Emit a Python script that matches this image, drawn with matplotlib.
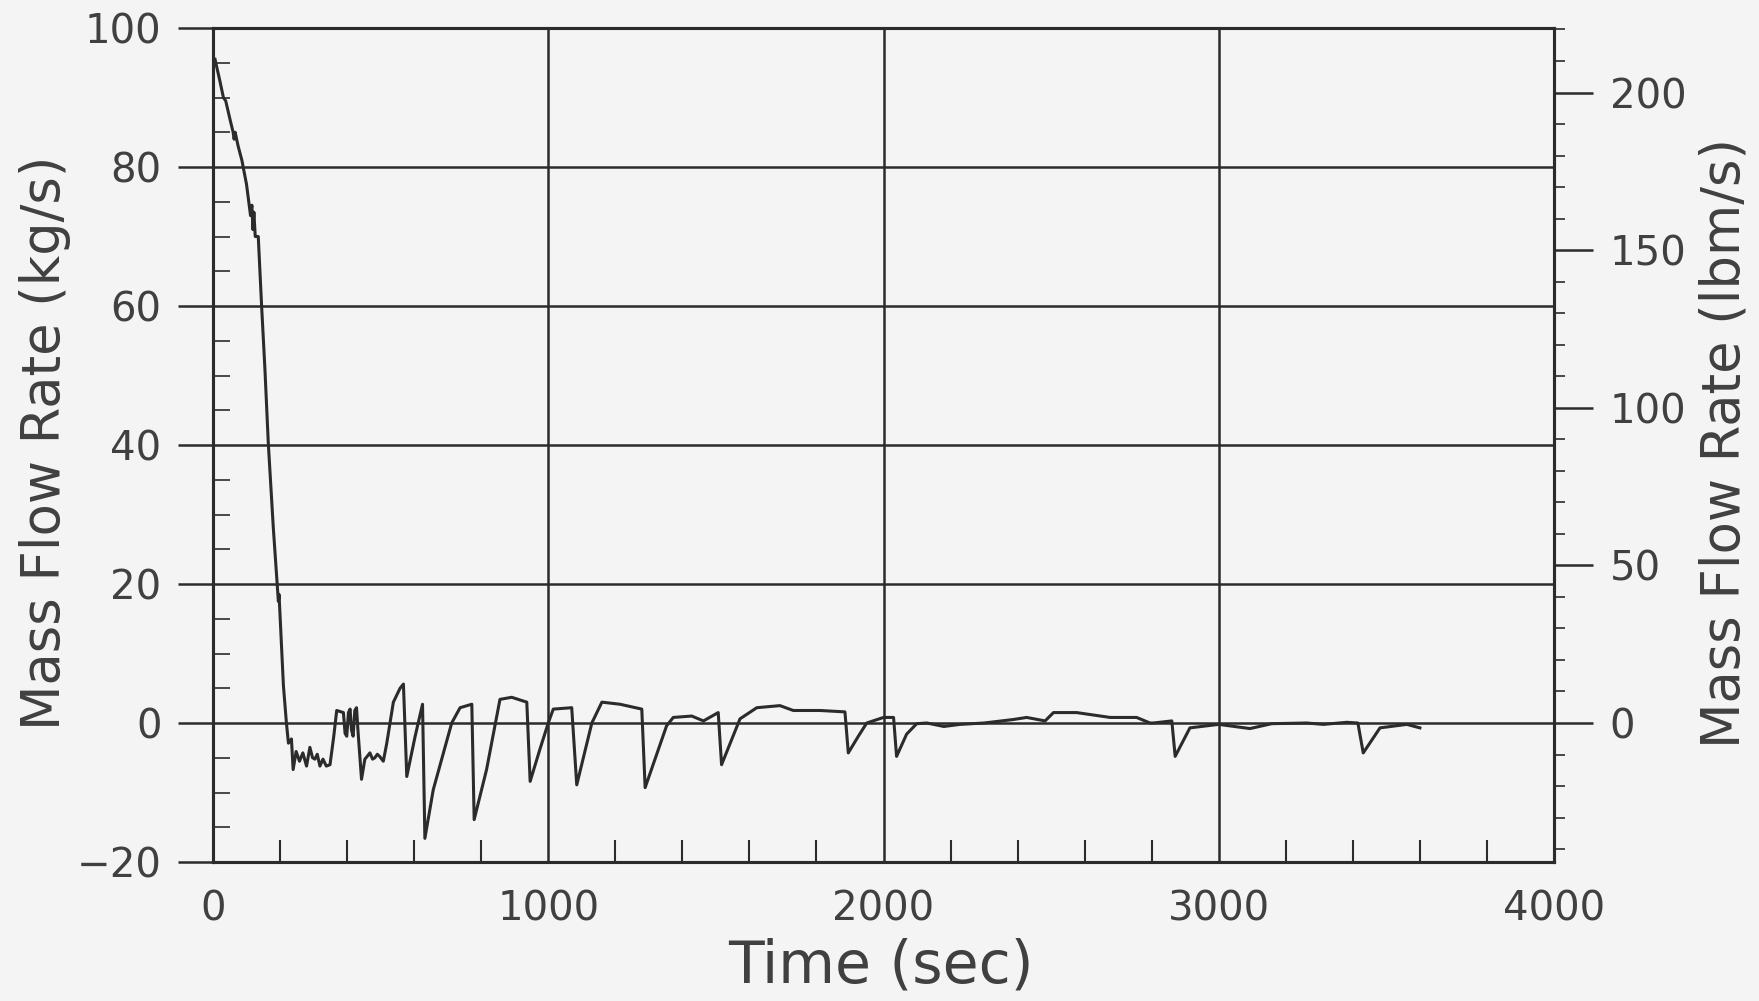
import matplotlib
matplotlib.use("Agg")
import matplotlib.pyplot as plt
from matplotlib.ticker import MultipleLocator, FixedLocator

# ---- data ----
time_s = [6, 20, 31, 38, 50, 60, 63, 66, 75, 86, 100, 112, 116, 119, 122, 126, 135,
          145, 155, 165, 180, 192, 195, 197, 210, 219, 225, 234, 239, 248, 258, 268,
          279, 289, 297, 304, 311, 319, 328, 338, 349, 360, 369, 389, 394, 399, 404,
          409, 413, 418, 423, 428, 433, 443, 453, 460, 468, 476, 483, 490, 497, 508,
          518, 538, 558, 568, 578, 603, 625, 632, 657, 712, 737, 772, 779, 816, 856,
          891, 936, 946, 975, 1000, 1015, 1070, 1085, 1130, 1160, 1214, 1279, 1289,
          1353, 1373, 1428, 1463, 1507, 1517, 1572, 1622, 1691, 1731, 1811, 1885,
          1895, 1925, 1950, 2000, 2030, 2039, 2069, 2099, 2129, 2180, 2228, 2300,
          2387, 2427, 2482, 2507, 2576, 2676, 2755, 2795, 2805, 2860, 2870, 2914,
          3000, 3093, 3158, 3262, 3312, 3382, 3415, 3431, 3481, 3561, 3600]
flow_kg = [95.5, 92.5, 90.0, 89.5, 87.0, 85.0, 84.0, 85.0, 83.0, 81.0, 77.5, 73.0,
           74.5, 71.0, 73.5, 70.0, 70.0, 60.0, 50.8, 40.2, 28.0, 19.5, 17.5, 18.5,
           5.4, 0.0, -2.9, -2.3, -6.7, -4.1, -5.5, -4.3, -6.2, -3.5, -5.0, -5.2,
           -4.5, -6.2, -5.2, -6.2, -6.0, -2.0, 1.8, 1.5, -1.5, -1.9, 1.5, 2.0, -1.0,
           -1.9, 1.8, 2.2, -1.5, -8.1, -5.2, -4.8, -4.3, -5.2, -5.0, -4.5, -4.8,
           -5.5, -3.0, 3.0, 5.0, 5.6, -7.7, -1.9, 2.7, -16.6, -9.6, 0.0, 2.2, 2.7,
           -13.9, -6.7, 3.4, 3.7, 3.0, -8.4, -3.8, 0.0, 2.0, 2.2, -8.9, 0.0, 3.0,
           2.7, 2.0, -9.3, -0.4, 0.8, 1.0, 0.3, 1.5, -6.0, 0.6, 2.2, 2.5, 1.8, 1.8,
           1.6, -4.3, -1.9, 0.0, 0.8, 0.8, -4.8, -1.6, -0.1, 0.0, -0.5, -0.2, 0.0,
           0.5, 0.8, 0.3, 1.5, 1.5, 0.8, 0.8, 0.0, 0.0, 0.3, -4.8, -0.7, -0.2, -0.8,
           -0.1, 0.0, -0.2, 0.1, 0.0, -4.3, -0.7, -0.2, -0.7]

x_ticks = [0, 1000, 2000, 3000, 4000]
y_ticks = [-20, 0, 20, 40, 60, 80, 100]
y2_ticks = [0, 50, 100, 150, 200]
KG_TO_LBM = 2.20462

ink = "#2b2b2b"
txt = "#404040"
bg = "#f4f4f4"

plt.rcParams['font.family'] = ['DejaVu Sans']

fig = plt.figure(figsize=(17.59, 10.01), dpi=100, facecolor=bg)
ax = fig.add_axes([213/1759, 1-862/1001, 1341/1759, 834/1001], facecolor=bg)

ax.plot(time_s, flow_kg, color=ink, lw=2.2, zorder=3)

ax.set_xlim(0, 4000)
ax.set_ylim(-20, 100)
ax.set_xticks(x_ticks)
ax.set_yticks(y_ticks)
ax.grid(True, which='major', color=ink, lw=1.8)
ax.set_axisbelow(True)

ax.xaxis.set_minor_locator(MultipleLocator(200))
ax.yaxis.set_minor_locator(MultipleLocator(5))
ax.tick_params(axis='x', which='major', direction='in', length=0, pad=20,
               labelsize=29, labelcolor=txt, top=False)
ax.tick_params(axis='x', which='minor', direction='in', length=16, width=1.5,
               color=ink, top=False)
ax.tick_params(axis='y', which='major', direction='out', length=25, width=1.8,
               color=ink, pad=12, labelsize=29, labelcolor=txt)
ax.tick_params(axis='y', which='minor', direction='in', length=12, width=1.2,
               color=ink)
for s in ax.spines.values():
    s.set_color(ink)
    s.set_linewidth(2.2)

ax2 = ax.twinx()
ax2.set_ylim(-20 * KG_TO_LBM, 100 * KG_TO_LBM)
ax2.yaxis.set_major_locator(FixedLocator(y2_ticks))
ax2.yaxis.set_minor_locator(MultipleLocator(10))
ax2.tick_params(axis='y', which='major', direction='out', length=28, width=1.8,
                color=ink, pad=12, labelsize=29, labelcolor=txt)
ax2.tick_params(axis='y', which='minor', direction='out', length=8, width=1.2,
                color=ink)
for s in ax2.spines.values():
    s.set_color(ink)
    s.set_linewidth(2.2)

fig.text(45/1759, 1-443/1001, 'Mass Flow Rate (kg/s)', rotation=90,
         ha='center', va='center', fontsize=38, color=txt)
fig.text(1724/1759, 1-443/1001, 'Mass Flow Rate (lbm/s)', rotation=90,
         ha='center', va='center', fontsize=38, color=txt)
fig.text(881/1759, 1-966/1001, 'Time (sec)', ha='center', va='center',
         fontsize=42, color=txt)

fig.savefig('out.png', dpi=100, facecolor=bg)
